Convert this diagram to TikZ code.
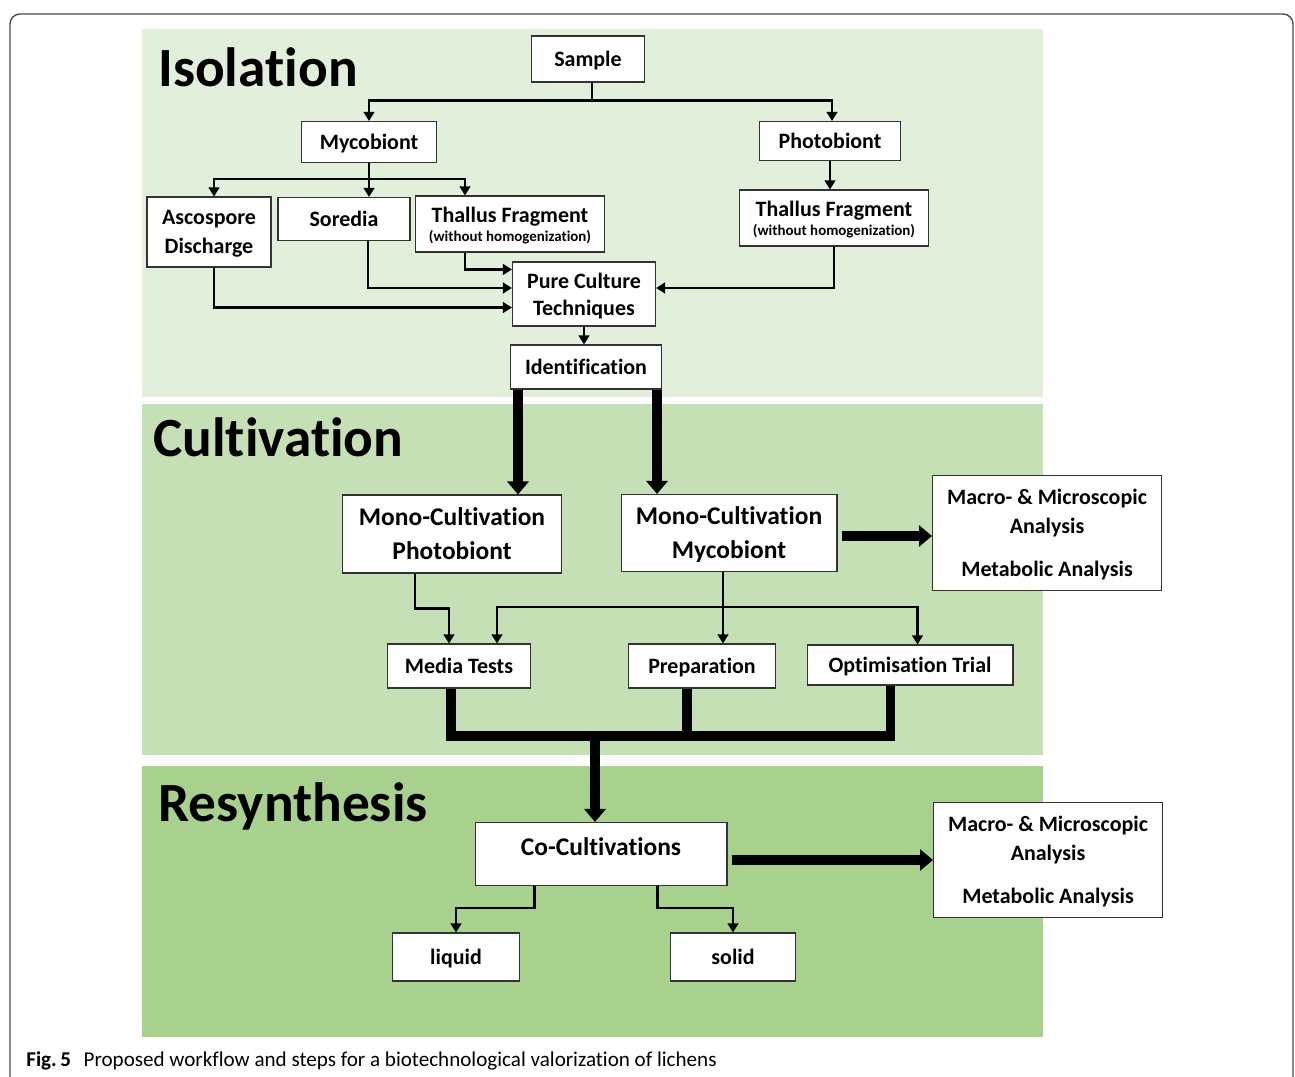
\documentclass[tikz,border=0pt]{standalone}
\usepackage{fontspec}
\setmainfont[Ligatures=NoCommon]{Carlito}
\usepackage{tikz}
\usetikzlibrary{arrows.meta,calc}
\definecolor{isoband}{HTML}{E2EFDA}
\definecolor{cultband}{HTML}{C5E0B4}
\definecolor{resband}{HTML}{A9D18E}

\begin{document}
\begin{tikzpicture}[x=0.02cm, y=-0.02cm,
box/.style={draw=black!80, fill=white, line width=0.6pt, inner sep=0pt, align=center, text depth=0pt, font=\bfseries\fontsize{12.5}{16.5}\selectfont},
bigbox/.style={box, font=\bfseries\fontsize{14.5}{19.3}\selectfont},
title/.style={anchor=base west, inner sep=0pt, font=\bfseries\fontsize{31.5}{36}\selectfont},
line/.style={line width=1.4pt},
arr/.style={line, -{Triangle[length=1.8mm,width=2.1mm]}},
fat/.style={line width=5.5pt, line join=miter},
fatarr/.style={fat, -{Triangle[length=2.6mm,width=4.2mm]}}]
\useasboundingbox (0,0) rectangle (1295,1077);
\begin{scope}
\clip (0,0) rectangle (1295,1077);
\draw[black!70, line width=0.8pt, rounded corners=2mm] (10,14) rectangle (1293,1090);
\end{scope}
\fill[isoband] (142,29) rectangle (1043,397);
\fill[cultband] (142,404) rectangle (1043,755);
\fill[resband] (142,766) rectangle (1043,1037);
\node[title] (isoT) at (158,87) {Isolation};
\node[title] (cultT) at (153,457) {Cultivation};
\node[title] (resT) at (158,821) {Resynthesis};

\node[box, minimum width=2.26cm, minimum height=0.92cm] (sample) at (588,59) {Sample};
\node[box, minimum width=2.70cm, minimum height=0.82cm] (myco) at (369,142) {Mycobiont};
\node[box, minimum width=2.82cm, minimum height=0.78cm] (photo) at (830,141) {Photobiont};
\node[box, minimum width=2.48cm, minimum height=1.40cm] (asco) at (209,232) {Ascospore\\Discharge};
\node[box, minimum width=2.64cm, minimum height=0.86cm] (sored) at (344,219) {Soredia};
\node[box, minimum width=3.78cm, minimum height=1.12cm] (thalL) at (510,224) {Thallus Fragment\\[-5.5pt]{\fontsize{8.5}{10}\selectfont (without homogenization)}};
\node[box, minimum width=3.78cm, minimum height=1.12cm] (thalR) at (834,218) {Thallus Fragment\\[-5.5pt]{\fontsize{8.5}{10}\selectfont (without homogenization)}};
\node[box, minimum width=2.86cm, minimum height=1.28cm, font=\bfseries\fontsize{12.5}{15.3}\selectfont] (pure) at (584,294) {Pure Culture\\Techniques};
\node[box, minimum width=3.02cm, minimum height=0.88cm] (ident) at (586,367) {Identification};
\node[bigbox, minimum width=4.38cm, minimum height=1.56cm] (monoP) at (452,534) {Mono-Cultivation\\Photobiont};
\node[bigbox, minimum width=4.32cm, minimum height=1.54cm] (monoM) at (729,533) {Mono-Cultivation\\Mycobiont};
\node[box, minimum width=4.58cm, minimum height=2.30cm] (macroA) at (1047,533) {Macro- \& Microscopic\\Analysis\\[8pt]Metabolic Analysis};
\node[box, minimum width=2.86cm, minimum height=0.88cm] (media) at (459,666) {Media Tests};
\node[box, minimum width=2.94cm, minimum height=0.88cm] (prep) at (702,666) {Preparation};
\node[box, minimum width=4.12cm, minimum height=0.80cm] (optim) at (910,665) {Optimisation Trial};
\node[bigbox, minimum width=5.04cm, minimum height=1.26cm, text height=9.3pt, text depth=8pt] (cocult) at (601,854) {Co-Cultivations};
\node[box, minimum width=4.58cm, minimum height=2.30cm] (macroB) at (1048,860) {Macro- \& Microscopic\\Analysis\\[8pt]Metabolic Analysis};
\node[box, minimum width=2.54cm, minimum height=0.96cm] (liquid) at (456,957) {liquid};
\node[box, minimum width=2.50cm, minimum height=0.96cm] (solid) at (733,957) {solid};

\draw[line] ($(sample.south)+(4,0)$) -- ++(0,18) coordinate (sfork);
\draw[arr] (sfork) -| (myco.north);
\draw[arr] (sfork) -| ($(photo.north)+(2,0)$);
\draw[line] (myco.south) -- ++(0,16) coordinate (mfork);
\draw[arr] (mfork) -| ($(asco.north)+(5,0)$);
\draw[arr] (mfork) -- (mfork |- sored.north);
\draw[arr] (mfork) -| ($(thalL.north west)+(50,0)$);
\draw[arr] (photo.south) -- (photo.south |- thalR.north);
\draw[arr] ($(thalL.south west)+(50,0)$) |- ($(pure.north west)+(0,8)$);
\draw[arr] ($(sored.south)+(24,0)$) |- ($(pure.west)+(0,-6)$);
\draw[arr] ($(asco.south)+(5,0)$) |- ($(pure.south west)+(0,-19)$);
\draw[arr] (thalR.south) |- ($(pure.east)+(0,-6)$);
\draw[arr] (pure.south) -- (pure.south |- ident.north);

\coordinate (i1) at ($(ident.south west)+(8,0)$);
\coordinate (i2) at ($(ident.south east)+(-5,0)$);
\draw[fatarr] (i1) -- (i1 |- monoP.north);
\draw[fatarr] (i2) -- (i2 |- monoM.north);
\draw[fatarr] ($(monoM.east)+(4,3)$) coordinate (mm) -- (mm -| macroA.west);

\draw[arr] ($(monoP.south west)+(73,0)$) -- ++(0,35) -| ($(media.north west)+(62,0)$);
\draw[line] ($(monoM.south)+(-6,0)$) -- ++(0,35) coordinate (mf);
\draw[arr] (mf) -| ($(media.north west)+(110,0)$);
\draw[arr] (mf) -- (mf |- prep.north);
\draw[arr] (mf) -| ($(optim.north west)+(111,0)$);

\coordinate (m1) at ($(media.south west)+(64,0)$);
\coordinate (p1) at ($(prep.south west)+(59,0)$);
\coordinate (o1) at ($(optim.south west)+(84,0)$);
\coordinate (jn) at ($(cocult.north)+(-6,-86)$);
\draw[fat] (m1) |- (jn) -| (o1);
\draw[fat] (p1) -- (p1 |- jn);
\draw[fatarr] (jn) -- (jn |- cocult.north);
\draw[fatarr] ($(cocult.east)+(4,6)$) coordinate (cc) -- (cc -| macroB.west);

\draw[arr] ($(cocult.south west)+(60,0)$) -- ++(0,22) -| (liquid.north);
\draw[arr] ($(cocult.south west)+(183,0)$) -- ++(0,22) -| (solid.north);

\node[anchor=base west, inner sep=0pt, font=\fontsize{12}{14}\selectfont] (caption) at (26,1066) {\textbf{Fig.\,5}\hspace{0.6em}Proposed workflow and steps for a biotechnological valorization of lichens};
\end{tikzpicture}
\end{document}
